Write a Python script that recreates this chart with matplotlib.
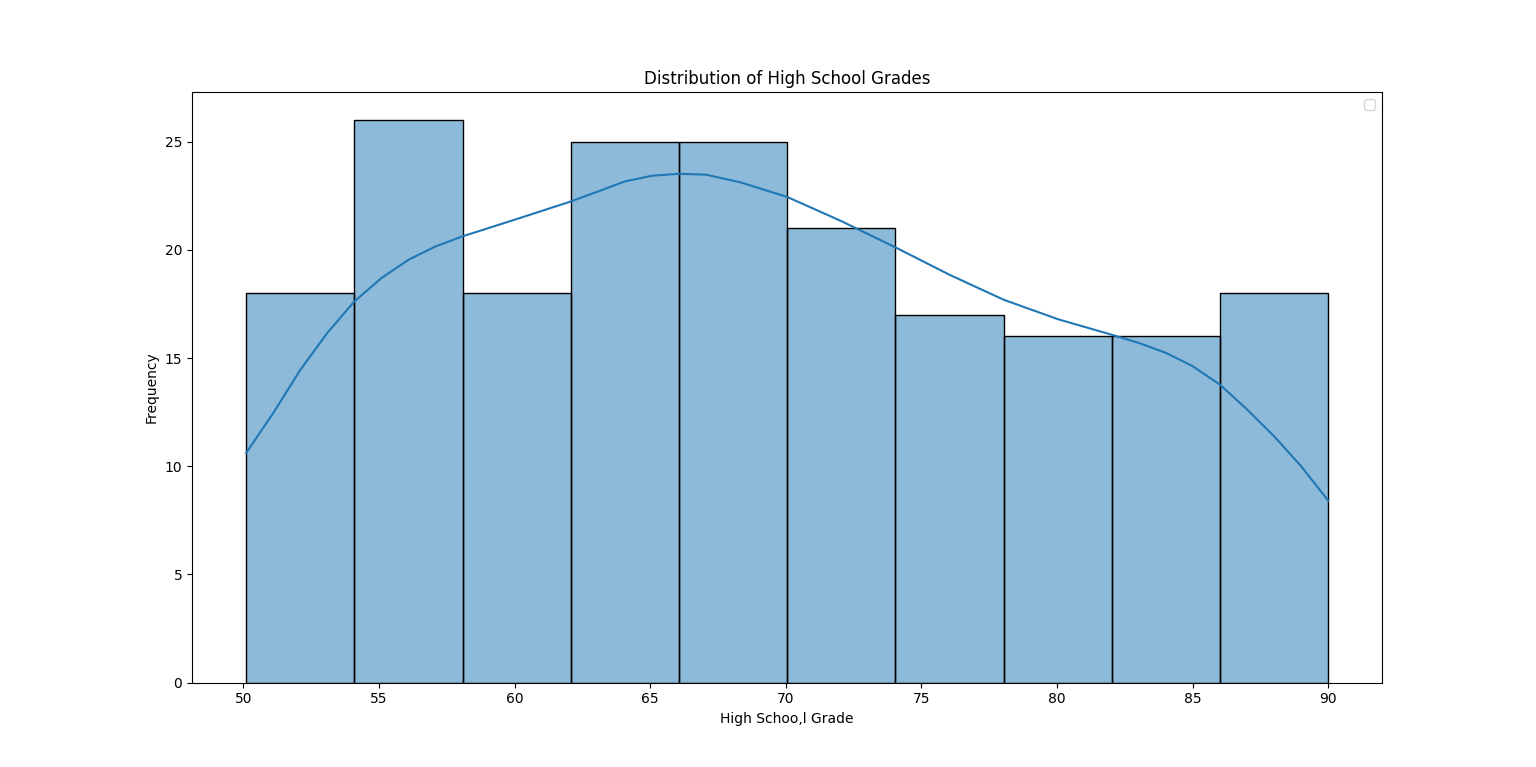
import matplotlib.pyplot as plt
import numpy as np

# histogram of high school grades (10 bins)
bin_start = 50.1
bin_width = 3.99
counts = [18, 26, 18, 25, 25, 21, 17, 16, 16, 18]

# kde curve (in count units)
kde_x = [50.10, 51.10, 52.10, 53.09, 54.09, 55.09, 56.09, 57.08, 58.08,
         60.08, 62.07, 63.07, 64.07, 65.06, 66.06, 67.06, 68.34, 70.05,
         71.66, 72.05, 74.04, 76.04, 78.03, 80.03, 82.02, 83.02, 84.02,
         85.01, 86.01, 87.01, 88.01, 89.00, 90.00]
kde_y = [10.61, 12.46, 14.46, 16.16, 17.62, 18.70, 19.55, 20.16, 20.63,
         21.43, 22.24, 22.70, 23.17, 23.43, 23.52, 23.48, 23.12, 22.45,
         21.55, 21.33, 20.12, 18.85, 17.70, 16.80, 16.08, 15.70, 15.24,
         14.62, 13.77, 12.62, 11.38, 10.00, 8.41]

left_edges = bin_start + bin_width * np.arange(len(counts))

fig, ax = plt.subplots(figsize=(15.36, 7.67), dpi=100)
ax.bar(left_edges, counts, width=bin_width, align="edge",
       color="#1f77b4", alpha=0.5, edgecolor="none")
ax.bar(left_edges, counts, width=bin_width, align="edge",
       fill=False, edgecolor="black", linewidth=1)
ax.plot(kde_x, kde_y, color="#1f77b4", linewidth=1.5)

ax.set_title("Distribution of High School Grades")
ax.set_xlabel("High Schoo,l Grade")
ax.set_ylabel("Frequency")
ax.legend()

fig.savefig("out.png", dpi=100)
